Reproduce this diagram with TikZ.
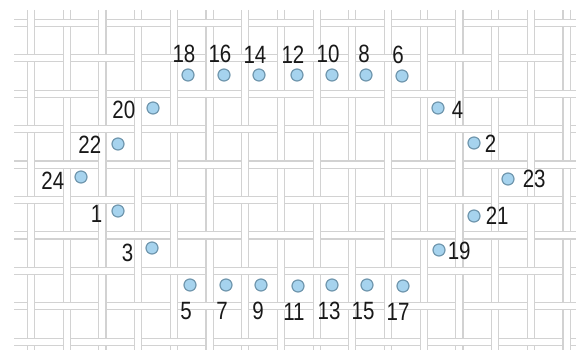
\documentclass[tikz,border=0pt]{standalone}
\usepackage{fontspec}
\setmainfont{Liberation Sans}[FakeStretch=0.82]
\usetikzlibrary{positioning}

\definecolor{holefill}{HTML}{A6D3EE}
\definecolor{holeedge}{HTML}{7097AE}
\newcommand{\gapx}{35.7}
\newcommand{\gapy}{35.4}

\begin{document}
\begin{tikzpicture}[x=1pt,y=-1pt,
    thread/.style={draw=gray!35, line width=1.1pt, double=white, double distance=6pt},
    hole/.style={circle, draw=holeedge, fill=holefill, line width=1.2pt, minimum size=12pt, inner sep=0pt},
    num/.style={font=\fontsize{25}{25}\selectfont, text=black!90, inner sep=0pt}]

\useasboundingbox (0,0) rectangle (581,350);

% draw threads
\foreach \j in {0,...,9}
  \draw[thread] (14, 23+\j*\gapy) -- (576, 23+\j*\gapy);
\foreach \i in {0,...,15}
  \draw[thread] (31+\i*\gapx, 10) -- (31+\i*\gapx, 350);
% weave: horizontal thread on top at every other crossing
\foreach \i in {0,...,15}
  \foreach \j in {0,...,9} {
    \pgfmathtruncatemacro{\odd}{mod(\i+\j,2)}
    \ifnum\odd=1
      \draw[thread] (31+\i*\gapx-6, 23+\j*\gapy) -- (31+\i*\gapx+6, 23+\j*\gapy);
    \fi
  }

% draw holes, top row
\node[hole] (h18) at (188,75) {};
\node[hole] (h16) at (224,75) {};
\node[hole] (h14) at (259,75) {};
\node[hole] (h12) at (297,75) {};
\node[hole] (h10) at (332,75) {};
\node[hole] (h8) at (366,75) {};
\node[hole] (h6) at (402,76) {};
% bottom row
\node[hole] (h5) at (190,285) {};
\node[hole] (h7) at (226,285) {};
\node[hole] (h9) at (261,285) {};
\node[hole] (h11) at (298,286) {};
\node[hole] (h13) at (332,285) {};
\node[hole] (h15) at (367,285) {};
\node[hole] (h17) at (403,286) {};
% left side
\node[hole] (h20) at (153,108) {};
\node[hole] (h22) at (118,144) {};
\node[hole] (h24) at (81,177) {};
\node[hole] (h1) at (118,211) {};
\node[hole] (h3) at (152,248) {};
% right side
\node[hole] (h4) at (438,108) {};
\node[hole] (h2) at (474,143) {};
\node[hole] (h23) at (508,179) {};
\node[hole] (h21) at (474,216) {};
\node[hole] (h19) at (439,250) {};

% numbers
\node[num, above=5pt of h18, xshift=-4pt] (n18) {18};
\node[num, above=5pt of h16, xshift=-4pt] (n16) {16};
\node[num, above=5pt of h14, xshift=-4pt] (n14) {14};
\node[num, above=5pt of h12, xshift=-4pt] (n12) {12};
\node[num, above=5pt of h10, xshift=-4pt] (n10) {10};
\node[num, above=5pt of h8, xshift=-2pt] (n8) {8};
\node[num, above=5pt of h6, xshift=-4pt] (n6) {6};

\node[num, below=10pt of h5, xshift=-4pt] (n5) {5};
\node[num, below=10pt of h7, xshift=-4pt] (n7) {7};
\node[num, below=10pt of h9, xshift=-3pt] (n9) {9};
\node[num, below=10pt of h11, xshift=-4pt] (n11) {11};
\node[num, below=10pt of h13, xshift=-3pt] (n13) {13};
\node[num, below=10pt of h15, xshift=-4pt] (n15) {15};
\node[num, below=10pt of h17, xshift=-5pt] (n17) {17};

\node[num, left=11pt of h20, yshift=-2pt] (n20) {20};
\node[num, left=10pt of h22, yshift=-1pt] (n22) {22};
\node[num, left=10pt of h24, yshift=-4pt] (n24) {24};
\node[num, left=9pt of h1, yshift=-3pt] (n1) {1};
\node[num, left=12pt of h3, yshift=-5pt] (n3) {3};

\node[num, right=7pt of h4, yshift=-2pt] (n4) {4};
\node[num, right=4pt of h2, yshift=-1pt] (n2) {2};
\node[num, right=8pt of h23] (n23) {23};
\node[num, right=5pt of h21] (n21) {21};
\node[num, right=2pt of h19, yshift=-1pt] (n19) {19};

\end{tikzpicture}
\end{document}
